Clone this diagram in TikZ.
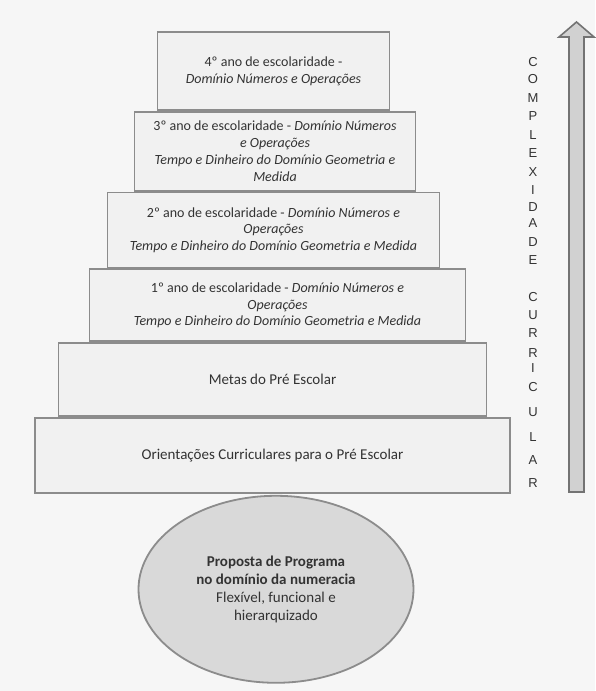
\documentclass[tikz,border=0pt]{standalone}
\usepackage{fontspec}
\setmainfont{Carlito}
\newfontfamily\arialfont{Liberation Sans}
\usetikzlibrary{positioning,shapes.geometric}

\definecolor{pagebg}{gray}{0.965}
\definecolor{tierfill}{gray}{0.945}
\definecolor{tierline}{gray}{0.55}
\definecolor{tiertext}{gray}{0.2}
\definecolor{ovalfill}{gray}{0.85}
\definecolor{arrowfill}{gray}{0.82}
\definecolor{arrowline}{gray}{0.45}

\begin{document}
\begin{tikzpicture}[
  x=1pt, y=1pt,
  tier/.style={draw=tierline, line width=1.8pt, fill=tierfill, text=tiertext,
    align=center, inner sep=2pt, font=\fontsize{15}{17}\selectfont},
  yeartier/.style={tier, font=\fontsize{14}{16.8}\selectfont},
  oval/.style={draw=tierline, line width=1.8pt, fill=ovalfill, ellipse, text=tiertext,
    align=center, inner sep=0pt, font=\fontsize{15}{18}\selectfont},
  letter/.style={text=tiertext, inner sep=0pt, font=\arialfont\fontsize{13}{14}\selectfont},
  bigarrow/.style={draw=arrowline, line width=1.6pt, fill=arrowfill, line join=miter},
  node distance=0pt
]

\useasboundingbox[fill=pagebg] (0,0) rectangle (595,691);

\node[tier, minimum width=475pt, minimum height=75pt] (orient) at (272.5,235.5)
  {Orientações Curriculares para o Pré Escolar};

\node[tier, minimum width=428pt, minimum height=73pt, above=of orient] (metas)
  {Metas do Pré Escolar};

\node[yeartier, minimum width=376pt, minimum height=72pt, above=of metas, xshift=5pt] (ano1)
  {1º ano de escolaridade - \textit{Domínio Números e}\\
   \textit{Operações}\\
   \textit{Tempo e Dinheiro do Domínio Geometria e Medida}};

\node[yeartier, minimum width=332pt, minimum height=75pt, above=of ano1, xshift=-4pt] (ano2)
  {2º ano de escolaridade - \textit{Domínio Números e}\\
   \textit{Operações}\\
   \textit{Tempo e Dinheiro do Domínio Geometria e Medida}};

\node[yeartier, minimum width=281pt, minimum height=79pt, above=of ano2, xshift=1.5pt] (ano3)
  {3º ano de escolaridade - \textit{Domínio Números}\\
   \textit{e Operações}\\
   \textit{Tempo e Dinheiro do Domínio Geometria e}\\
   \textit{Medida}};

\node[yeartier, minimum width=232pt, minimum height=78pt, above=of ano3, xshift=-1.5pt] (ano4)
  {4º ano de escolaridade -\\
   \textit{Domínio Números e Operações}};

\node[oval, minimum width=275pt, minimum height=187pt, below=1pt of orient, xshift=3.5pt] (prog)
  {\textbf{Proposta de Programa}\\
   \textbf{no domínio da numeracia}\\
   Flexível, funcional e\\
   hierarquizado};

% complexity arrow
\draw[bigarrow] (569,199) -- (569,654) -- (559,654) -- (576.5,669)
  -- (594,654) -- (584,654) -- (584,199) -- cycle;

\foreach \ch/\py [count=\i] in {C/62,O/79,M/98,P/116,L/135,E/153,X/172,I/190,D/207,A/223,D/242,E/260,
    C/297,U/315,R/333,R/353,I/368,C/387,U/412,L/437,A/460,R/483}
  \node[letter] (lt\i) at (533,691-\py) {\ch};

\end{tikzpicture}
\end{document}
